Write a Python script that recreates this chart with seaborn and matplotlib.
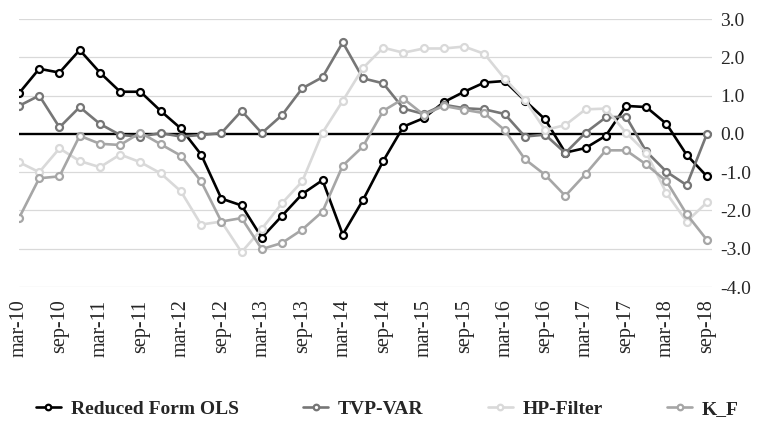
import pandas as pd
import matplotlib
matplotlib.use("Agg")
import matplotlib.pyplot as plt
import seaborn as sns

# quarterly observations mar-10 .. sep-18
tick_labels = ["mar-10", "sep-10", "mar-11", "sep-11", "mar-12", "sep-12",
               "mar-13", "sep-13", "mar-14", "sep-14", "mar-15", "sep-15",
               "mar-16", "sep-16", "mar-17", "sep-17", "mar-18", "sep-18"]

ols = [1.06, 1.70, 1.60, 2.19, 1.60, 1.10, 1.10, 0.60, 0.14, -0.54, -1.69, -1.87,
       -2.71, -2.14, -1.57, -1.21, -2.63, -1.73, -0.71, 0.19, 0.41, 0.83, 1.10, 1.34,
       1.38, 0.87, 0.38, -0.49, -0.37, -0.05, 0.73, 0.70, 0.26, -0.55, -1.11]
tvp_var = [0.73, 1.00, 0.17, 0.70, 0.26, -0.03, -0.07, 0.02, -0.07, -0.03, 0.02, 0.60,
           0.02, 0.49, 1.19, 1.48, 2.39, 1.45, 1.32, 0.66, 0.52, 0.76, 0.67, 0.64,
           0.52, -0.07, -0.02, -0.50, 0.03, 0.43, 0.45, -0.46, -0.99, -1.34, 0.00]
hp_filter = [-0.74, -1.00, -0.38, -0.71, -0.87, -0.54, -0.74, -1.03, -1.50, -2.37, -2.29, -3.09,
             -2.48, -1.81, -1.24, 0.03, 0.86, 1.72, 2.25, 2.12, 2.23, 2.23, 2.28, 2.09,
             1.44, 0.89, 0.10, 0.23, 0.64, 0.66, 0.03, -0.49, -1.55, -2.29, -1.79]
k_f = [-2.20, -1.16, -1.11, -0.05, -0.26, -0.29, 0.03, -0.27, -0.57, -1.24, -2.29, -2.20,
       -3.01, -2.85, -2.50, -2.03, -0.83, -0.33, 0.60, 0.92, 0.50, 0.73, 0.63, 0.54,
       0.10, -0.66, -1.07, -1.62, -1.05, -0.43, -0.43, -0.80, -1.24, -2.10, -2.77]

series = {"Reduced Form OLS": ols, "TVP-VAR": tvp_var, "HP-Filter": hp_filter, "K_F": k_f}
colors = {"Reduced Form OLS": "#000000", "TVP-VAR": "#767676",
          "HP-Filter": "#d9d9d9", "K_F": "#a6a6a6"}

sns.set_style("white")
plt.rcParams["font.family"] = ["Liberation Serif", "DejaVu Serif"]

fig = plt.figure(figsize=(7.58, 4.24), dpi=100)
ax = fig.add_axes([19 / 758, 1 - 287 / 424, (712 - 19) / 758, 268 / 424])

for yv in range(-4, 4):
    if yv != 0:
        ax.axhline(yv, color="#d9d9d9", lw=0.9, zorder=0)
ax.axhline(0, color="black", lw=1.7, zorder=1)

for i, (name, vals) in enumerate(series.items()):
    df = pd.DataFrame({"q": range(len(vals)), "v": vals})
    sns.lineplot(data=df, x="q", y="v", ax=ax, color=colors[name], lw=1.9,
                 marker="o", markersize=5, markerfacecolor="white",
                 markeredgecolor=colors[name], markeredgewidth=1.6,
                 label=name, zorder=2 + i)

ax.set_xlim(0, 34.25)
ax.set_ylim(-4, 3)
ax.set_yticks(range(-4, 4))
ax.set_yticklabels([f"{v:.1f}" for v in range(-4, 4)], fontsize=14)
ax.yaxis.tick_right()
ax.tick_params(axis="y", length=0, pad=6)
ax.set_xticks(range(0, 35, 2))
ax.set_xticklabels(tick_labels, rotation=90, fontsize=14.5, va="top")
ax.tick_params(axis="x", length=0, pad=9)
ax.set_xlabel("")
ax.set_ylabel("")
for s in ax.spines.values():
    s.set_visible(False)

ax.get_legend().remove()
handles, labels = ax.get_legend_handles_labels()
leg = fig.legend(handles, labels, loc="center", bbox_to_anchor=(0.511, 1 - 409 / 424),
                 ncol=4, frameon=False, columnspacing=3.3, handlelength=1.3,
                 handletextpad=0.5, prop={"family": "Liberation Serif", "weight": "bold", "size": 14})
for h in leg.legend_handles:
    h.set_markersize(4)

fig.savefig("out.png", dpi=100)
